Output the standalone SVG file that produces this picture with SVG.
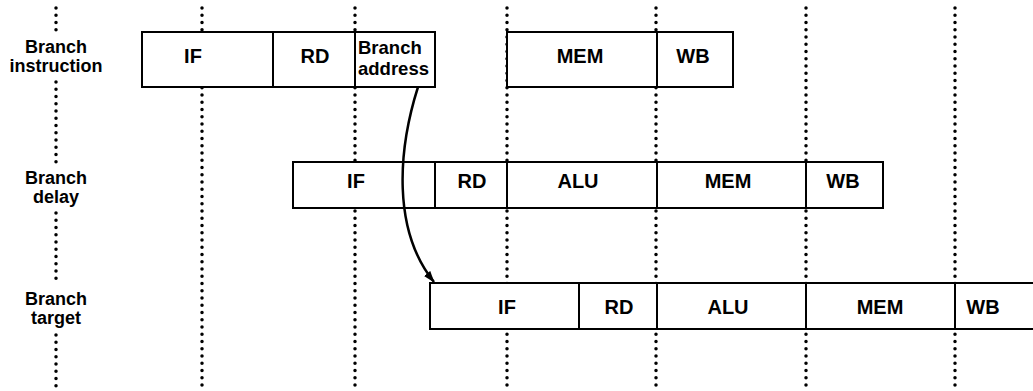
<svg xmlns="http://www.w3.org/2000/svg" width="1033" height="391" viewBox="0 0 1033 391">
<style>
.dot{stroke:#000;stroke-width:3.5;stroke-linecap:round;stroke-dasharray:0 7.25;fill:none}
.box{fill:#fff;stroke:#000;stroke-width:2}
.t{font-family:"Liberation Sans",Arial,sans-serif;font-weight:bold;font-size:20px;fill:#000;text-anchor:middle}
.lbl{font-family:"Liberation Sans",Arial,sans-serif;font-weight:bold;font-size:18px;fill:#000;text-anchor:middle}
.ba{font-family:"Liberation Sans",Arial,sans-serif;font-weight:bold;font-size:18.5px;fill:#000}
.arr{fill:none;stroke:#000;stroke-width:2.5}
</style>
<defs>
<marker id="ah" viewBox="0 0 12 8" refX="11" refY="4" markerWidth="12" markerHeight="8" markerUnits="userSpaceOnUse" orient="auto">
<path d="M0,0 L12,4 L0,8 Z" fill="#000"/>
</marker>
</defs>
<rect width="1033" height="391" fill="#fff"/>
<g id="gridlines">
<line class="dot" x1="56" y1="8" x2="56" y2="34"/>
<line class="dot" x1="56" y1="82" x2="56" y2="163"/>
<line class="dot" x1="56" y1="213" x2="56" y2="281"/>
<line class="dot" x1="56" y1="335" x2="56" y2="388"/>
<line class="dot" x1="202" y1="8" x2="202" y2="388"/>
<line class="dot" x1="355" y1="8" x2="355" y2="388"/>
<line class="dot" x1="507" y1="8" x2="507" y2="388"/>
<line class="dot" x1="656" y1="8" x2="656" y2="388"/>
<line class="dot" x1="806" y1="8" x2="806" y2="388"/>
<line class="dot" x1="955" y1="8" x2="955" y2="388"/>
</g>
<g id="label-branch-instruction"><text class="lbl" x="56" y="53">Branch</text><text class="lbl" x="56" y="72">instruction</text></g>
<g id="label-branch-delay"><text class="lbl" x="56" y="184">Branch</text><text class="lbl" x="56" y="203">delay</text></g>
<g id="label-branch-target"><text class="lbl" x="56" y="305">Branch</text><text class="lbl" x="56" y="324">target</text></g>

<g id="r1-if"><rect class="box" x="142" y="32" width="131" height="55"/><text class="t" x="193" y="63">IF</text></g>
<g id="r1-rd"><rect class="box" x="273" y="32" width="82" height="55"/><text class="t" x="315" y="63">RD</text></g>
<g id="r1-ba"><rect class="box" x="355" y="32" width="80" height="55"/><text class="ba" x="358" y="54">Branch</text><text class="ba" x="358" y="75">address</text></g>
<g id="r1-mem"><rect class="box" x="507" y="32" width="150" height="55"/><text class="t" x="580" y="63">MEM</text></g>
<g id="r1-wb"><rect class="box" x="657" y="32" width="76" height="55"/><text class="t" x="693" y="63">WB</text></g>

<g id="r2-if"><rect class="box" x="293" y="162" width="142" height="46"/><text class="t" x="356" y="188">IF</text></g>
<g id="r2-rd"><rect class="box" x="435" y="162" width="72" height="46"/><text class="t" x="472" y="188">RD</text></g>
<g id="r2-alu"><rect class="box" x="507" y="162" width="150" height="46"/><text class="t" x="578" y="188">ALU</text></g>
<g id="r2-mem"><rect class="box" x="657" y="162" width="149" height="46"/><text class="t" x="728" y="188">MEM</text></g>
<g id="r2-wb"><rect class="box" x="806" y="162" width="77" height="46"/><text class="t" x="843" y="188">WB</text></g>

<g id="r3-if"><rect class="box" x="430" y="283" width="149" height="46"/><text class="t" x="507" y="314">IF</text></g>
<g id="r3-rd"><rect class="box" x="579" y="283" width="78" height="46"/><text class="t" x="619" y="314">RD</text></g>
<g id="r3-alu"><rect class="box" x="657" y="283" width="149" height="46"/><text class="t" x="728" y="314">ALU</text></g>
<g id="r3-mem"><rect class="box" x="806" y="283" width="149" height="46"/><text class="t" x="880" y="314">MEM</text></g>
<g id="r3-wb"><rect class="box" x="955" y="283" width="82" height="46"/><text class="t" x="983" y="314">WB</text></g>

<g id="connectors">
<path class="arr" d="M418,87 C398,150 392,230 434,282" marker-end="url(#ah)"/>
</g>
</svg>
